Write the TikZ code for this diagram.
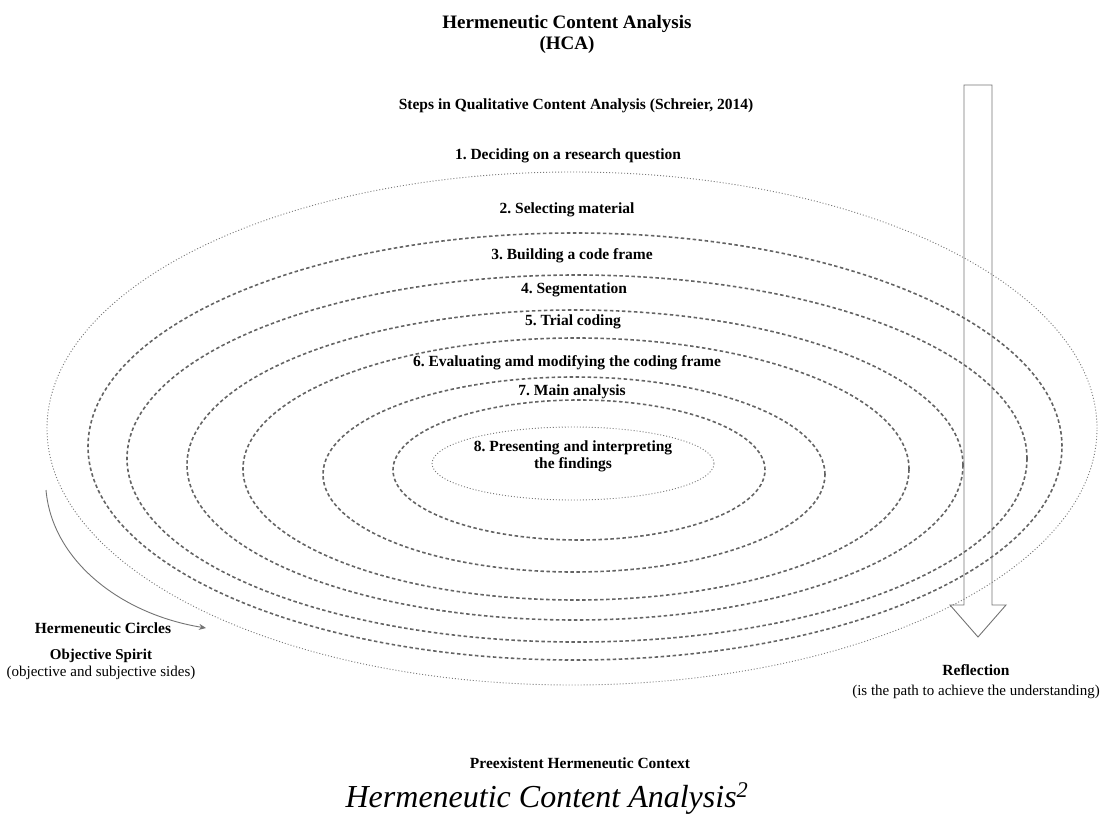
\documentclass[tikz,border=0pt]{standalone}
\usepackage{fontspec}
\setmainfont{Liberation Serif}
\usepackage{tikz}
\usetikzlibrary{arrows.meta}
\definecolor{ringgray}{RGB}{100,100,100}
\definecolor{dotgray}{RGB}{120,120,120}
\definecolor{arrowgray}{RGB}{115,115,115}
\frenchspacing

\begin{document}
\begin{tikzpicture}[x=1pt, y=-1pt,
    ring/.style={ringgray, line width=1.6pt, dash pattern=on 3.5pt off 2.5pt},
    dotring/.style={dotgray, line width=0.9pt, dash pattern=on 1pt off 2pt},
    lbl/.style={font=\fontsize{15.5}{17}\selectfont\bfseries, anchor=base, inner sep=0pt},
    note/.style={font=\fontsize{15}{17}\selectfont, anchor=base, inner sep=0pt}]
    \useasboundingbox (0,0) rectangle (1100,816);

    \node[lbl, font=\fontsize{19}{21}\selectfont\bfseries] (title) at (567,29) {Hermeneutic Content Analysis};
    \node[lbl, font=\fontsize{19}{21}\selectfont\bfseries] (hca) at (567,49) {(HCA)};
    \node[lbl] (steps) at (576,109) {Steps in Qualitative Content Analysis (Schreier, 2014)};

    % hermeneutic circles
    \draw[dotring] (572,428.5) ellipse [x radius=525pt, y radius=256.5pt];
    \draw[ring] (575,446.5) ellipse [x radius=487pt, y radius=213.5pt];
    \draw[ring] (577,458.5) ellipse [x radius=450pt, y radius=183.5pt];
    \draw[ring] (575,465) ellipse [x radius=388pt, y radius=155pt];
    \draw[ring] (576,469) ellipse [x radius=333pt, y radius=131pt];
    \draw[ring] (574,474.5) ellipse [x radius=251pt, y radius=97.5pt];
    \draw[ring] (579,470) ellipse [x radius=186pt, y radius=70pt];
    \draw[dotring] (573,463.5) ellipse [x radius=141pt, y radius=36.5pt];

    \node[lbl] (s1) at (568,159) {1. Deciding on a research question};
    \node[lbl] (s2) at (567,213) {2. Selecting material};
    \node[lbl] (s3) at (572,259) {3. Building a code frame};
    \node[lbl] (s4) at (574,293) {4. Segmentation};
    \node[lbl] (s5) at (573,325) {5. Trial coding};
    \node[lbl] (s6) at (567,366) {6. Evaluating amd modifying the coding frame};
    \node[lbl] (s7) at (572,395) {7. Main analysis};
    \node[lbl] (s8) at (573,451) {8. Presenting and interpreting};
    \node[lbl] (s8b) at (573,468) {the findings};

    % reflection arrow
    \draw[arrowgray, line width=0.9pt] (964,85) -- (992,85) -- (992,605) -- (1006,605)
        -- (978,637) -- (950,605) -- (964,605) -- cycle;
    \node[lbl] (refl) at (976,675) {Reflection};
    \node[note] (reflnote) at (976,695) {(is the path to achieve the understanding)};

    % circles arrow
    \coordinate (cstart) at (46,490);
    \coordinate (cend) at (206,628);
    \draw[arrowgray, line width=0.9pt, -{Stealth[length=7pt, width=6pt]}]
        (cstart) .. controls (52,560) and (120,614) .. (cend);
    \node[lbl] (circ) at (103,633) {Hermeneutic Circles};
    \node[lbl, font=\fontsize{15}{17}\selectfont\bfseries] (spirit) at (101,659) {Objective Spirit};
    \node[note] (spiritnote) at (101,676) {(objective and subjective sides)};

    \node[lbl] (context) at (580,768) {Preexistent Hermeneutic Context};
    \node[anchor=base, inner sep=0pt, font=\fontsize{32}{34}\selectfont\itshape] (caption) at (547,807)
        {Hermeneutic Content Analysis\textsuperscript{2}};
\end{tikzpicture}
\end{document}
